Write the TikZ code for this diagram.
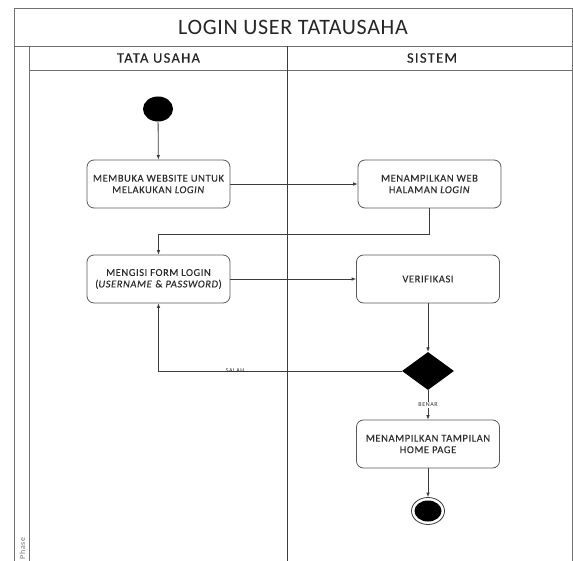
\documentclass[tikz,border=0pt]{standalone}
\usepackage{fontspec}
\setmainfont{Carlito}
\newfontfamily\titlefont[LetterSpace=3]{Carlito}
\newfontfamily\lanefont[LetterSpace=9,FakeBold=0.4]{Carlito}
\newfontfamily\boxfont[LetterSpace=5.5,FakeBold=0.3]{Carlito}
\newfontfamily\guardfont[LetterSpace=10]{Carlito}
\usetikzlibrary{arrows.meta,shapes.geometric}
\definecolor{framegray}{HTML}{707070}
\definecolor{linegray}{HTML}{3C3C3C}
\definecolor{txtgray}{HTML}{2E2E2E}
\begin{document}
\begin{tikzpicture}[x=1pt,y=-1pt,
  frameline/.style={draw=framegray,line width=0.9pt},
  actbox/.style={draw=linegray!85,line width=0.8pt,rounded corners=7pt,
    minimum width=143pt,minimum height=48pt,inner sep=0pt,align=center,
    text=txtgray,font=\boxfont\fontsize{10.5}{11.5}\selectfont},
  flow/.style={draw=linegray,line width=0.8pt,-{Latex[length=4.5pt,width=3.6pt]}},
  guard/.style={text=txtgray,font=\guardfont\fontsize{6}{7}\selectfont,inner sep=1pt}
]
\useasboundingbox (0,0) rectangle (573,561);

% swimlane frame
\draw[frameline] (14,575) -- (14,8) -- (572,8) -- (572,575);
\draw[frameline] (14,46) -- (572,46);
\draw[frameline] (29,46) -- (29,575);
\draw[frameline] (29,70) -- (572,70);
\draw[draw=linegray,line width=0.9pt] (287,46) -- (287,575);

\node[text=black!85,font=\titlefont\fontsize{22}{24}\selectfont] (title) at (293,27) {LOGIN USER TATAUSAHA};
\node[text=black!85,font=\lanefont\fontsize{14.5}{16}\selectfont] (laneA) at (158.5,58) {TATA USAHA};
\node[text=black!85,font=\lanefont\fontsize{14.5}{16}\selectfont] (laneB) at (432,58) {SISTEM};
\node[text=black!55,font=\guardfont\fontsize{8}{9}\selectfont,rotate=90,anchor=east,inner sep=0pt] (phase) at (22.5,537) {Phase};

% activities
\node[ellipse,fill=black,minimum width=30pt,minimum height=25pt,inner sep=0pt] (start) at (158,109) {};
\node[actbox] (open) at (158.5,184) {MEMBUKA WEBSITE UNTUK\\MELAKUKAN \textit{LOGIN}};
\node[actbox] (show) at (429.5,184) {MENAMPILKAN WEB\\HALAMAN \textit{LOGIN}};
\node[actbox] (form) at (158.5,279) {MENGISI FORM LOGIN\\(\textit{USERNAME} \& \textit{PASSWORD})};
\node[actbox] (verify) at (428,279) {VERIFIKASI};
\node[diamond,fill=black,aspect=1.37,minimum width=52pt,minimum height=38pt,inner sep=0pt] (check) at (428,371) {};
\node[actbox] (home) at (428,444) {MENAMPILKAN TAMPILAN\\HOME PAGE};
\node[ellipse,draw=linegray,line width=0.8pt,minimum width=33pt,minimum height=27pt,inner sep=0pt] (finish) at (428,511) {};
\node[ellipse,fill=black,minimum width=27pt,minimum height=21pt,inner sep=0pt] (finishdot) at (428,511) {};

% control flow
\draw[flow] (start) -- (open);
\draw[flow] (open) -- (show);
\draw[flow] (show.south) |- (158.5,234) -- (form.north);
\draw[flow] (form) -- (verify);
\draw[flow] (verify) -- (check);
\draw[flow] (check.west) -| (form.south);
\node[guard] (salah) at (235,370.5) {SALAH};
\draw[flow] (check.south) -- (home.north);
\node[guard,fill=white] (benar) at (428,405) {BENAR};
\draw[flow] (home) -- (finish);
\end{tikzpicture}
\end{document}
